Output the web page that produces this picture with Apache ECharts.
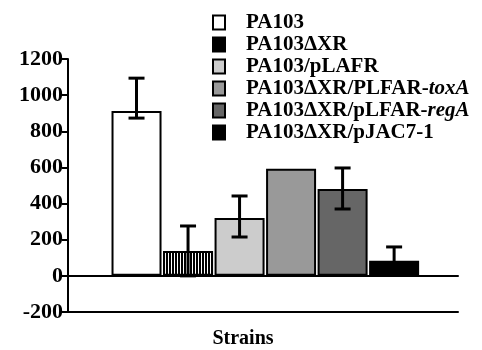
<!DOCTYPE html>
<html>
<head>
<meta charset="utf-8">
<script src="https://cdn.jsdelivr.net/npm/echarts@6/dist/echarts.min.js"></script>
<style>
  html, body { margin: 0; padding: 0; background: #fff; }
  #chart { width: 482px; height: 350px; }
</style>
</head>
<body>
<div id="chart"></div>
<script>
const strains = ['PA103', 'PA103ΔXR', 'PA103/pLAFR', 'PA103ΔXR/PLFAR-toxA', 'PA103ΔXR/pLFAR-regA', 'PA103ΔXR/pJAC7-1'];
const means = [912, 138, 320, 592, 480, 83];
const errLow = [873, 0, 215, null, 370, 6];
const errHigh = [1094, 276, 442, null, 597, 160];
const colors = ['#ffffff', '#000000', '#cccccc', '#999999', '#666666', '#000000'];
const yTicks = [-200, 0, 200, 400, 600, 800, 1000, 1200];

const font = 'Liberation Serif';
const chart = echarts.init(document.getElementById('chart'));

// striped fill on the second bar only (kept off the legend icon)
const stripes = {
  symbol: 'rect',
  color: '#ffffff',
  dashArrayX: [1, 2],
  dashArrayY: [20, 0],
  symbolSize: 1,
  rotation: 0
};

const barSeries = strains.map((name, i) => ({
  name: name,
  type: 'bar',
  stack: 'all',
  barWidth: 50,
  data: [i === 1
    ? { value: [i, means[i]], itemStyle: { decal: stripes } }
    : { value: [i, means[i]] }],
  itemStyle: {
    color: colors[i],
    borderColor: '#000',
    borderWidth: 2
  },
  emphasis: { disabled: true }
}));

const errorData = strains
  .map((s, i) => [i, errLow[i], errHigh[i]])
  .filter(d => d[1] !== null);

const option = {
  animation: false,
  grid: { left: 68, right: 24, top: 59, bottom: 38, outerBoundsMode: 'none' },
  legend: {
    orient: 'vertical',
    left: 207,
    top: 7,
    itemWidth: 12,
    itemHeight: 14,
    itemGap: 1,
    icon: 'rect',
    data: strains,
    formatter: name => name.replace(/(toxA|regA)$/, '{i|$1}'),
    textStyle: {
      fontFamily: font,
      fontWeight: 'bold',
      fontSize: 21,
      color: '#000',
      padding: [0, 0, 0, 16],
      rich: {
        i: { fontFamily: font, fontWeight: 'bold', fontStyle: 'italic', fontSize: 21, color: '#000' }
      }
    }
  },
  xAxis: [
    {
      type: 'value',
      min: -1.33,
      max: 6.24,
      axisLine: { onZero: true, lineStyle: { color: '#000', width: 2 } },
      axisTick: { show: false },
      axisLabel: { show: false },
      splitLine: { show: false }
    },
    {
      type: 'value',
      min: -1.33,
      max: 6.24,
      position: 'bottom',
      name: 'Strains',
      nameLocation: 'middle',
      nameGap: 17,
      nameTextStyle: {
        fontFamily: font, fontWeight: 'bold', fontSize: 20, color: '#000',
        padding: [0, 40, 0, 0]
      },
      axisLine: { onZero: false, lineStyle: { color: '#000', width: 2 } },
      axisTick: { show: false },
      axisLabel: { show: false },
      splitLine: { show: false }
    }
  ],
  yAxis: {
    type: 'value',
    min: yTicks[0],
    max: yTicks[yTicks.length - 1],
    interval: 200,
    axisLine: { show: true, onZero: false, lineStyle: { color: '#000', width: 2 } },
    axisTick: { show: true, length: 6, lineStyle: { color: '#000', width: 2 } },
    axisLabel: {
      fontFamily: font, fontWeight: 'bold', fontSize: 22, color: '#000', margin: 5,
      formatter: v => String(v)
    },
    splitLine: { show: false }
  },
  series: barSeries.concat([{
    type: 'custom',
    name: 'error',
    z: 5,
    data: errorData,
    renderItem: (params, api) => {
      const x = api.value(0);
      const lo = api.coord([x, api.value(1)]);
      const hi = api.coord([x, api.value(2)]);
      const cap = 8;
      const style = { stroke: '#000', lineWidth: 3 };
      return {
        type: 'group',
        children: [
          { type: 'line', shape: { x1: hi[0], y1: hi[1], x2: lo[0], y2: lo[1] }, style },
          { type: 'line', shape: { x1: hi[0] - cap, y1: hi[1], x2: hi[0] + cap, y2: hi[1] }, style },
          { type: 'line', shape: { x1: lo[0] - cap, y1: lo[1], x2: lo[0] + cap, y2: lo[1] }, style }
        ]
      };
    }
  }])
};

chart.setOption(option);
</script>
</body>
</html>
